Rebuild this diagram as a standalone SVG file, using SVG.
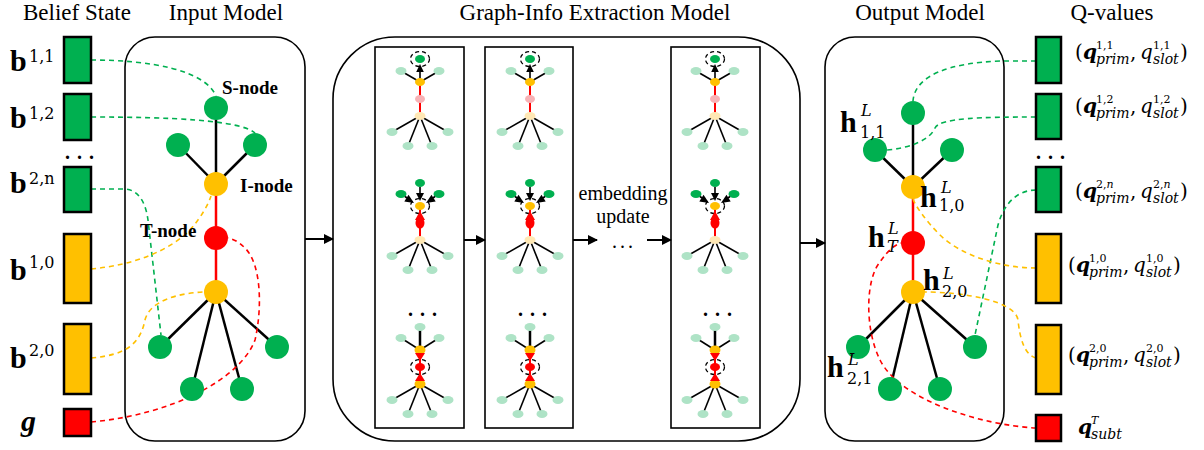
<svg xmlns="http://www.w3.org/2000/svg" xmlns:xlink="http://www.w3.org/1999/xlink" width="1204" height="450" viewBox="0 0 1204 450">
<style>
.t{font-family:"Liberation Serif",serif;font-size:23px;fill:#000}
.nl{font-family:"Liberation Serif",serif;font-weight:bold;font-size:19px}
.eu{font-family:"Liberation Serif",serif;font-size:20px}
.bb{font-family:"Liberation Serif",serif;font-weight:bold;font-size:30px}
.bs{font-family:"DejaVu Serif",serif;font-size:16px}
.hl{font-family:"DejaVu Serif",serif;font-style:italic;font-size:16px}
.qf{font-family:"DejaVu Serif",serif;font-size:20px}
.qb{font-weight:bold;font-style:italic}
.qi{font-style:italic}
.sp{font-size:11px}
.sb{font-size:14px;font-style:italic}
.dots{font-family:"Liberation Serif",serif;font-weight:bold;font-size:20px;letter-spacing:7px}
.box{stroke:#000;stroke-width:2.5}
.frame{fill:none;stroke:#000;stroke-width:1.6}
.g{fill:#00B050}.o{fill:#FFC000}.r{fill:#FF0000}
.lg{fill:#AEE3C6}.py{fill:#FFE8B5}.pk{fill:#F7B2B6}
.ek{stroke:#000;stroke-width:2.5}.er{stroke:#FF0000;stroke-width:2.5}
.mk{stroke:#000;stroke-width:1.6}.mr{stroke:#FF0000;stroke-width:2}
.dg{fill:none;stroke:#00B050;stroke-width:1.6;stroke-dasharray:5 4}
.do{fill:none;stroke:#FFC000;stroke-width:1.6;stroke-dasharray:5 4}
.dr{fill:none;stroke:#FF0000;stroke-width:1.6;stroke-dasharray:5 4}
.dc{fill:none;stroke:#000;stroke-width:1.3;stroke-dasharray:4 3}
.ar{stroke:#000;stroke-width:2;fill:none}
</style>
<defs>
<marker id="ah" markerWidth="10" markerHeight="10" refX="9" refY="5" orient="auto" markerUnits="userSpaceOnUse">
<path d="M0,0 L10,5 L0,10 Z" fill="#000"/>
</marker>
<g id="bottomFan">
<line class="mk" x1="0" y1="0" x2="-28" y2="16"/>
<line class="mk" x1="0" y1="0" x2="28" y2="16"/>
<line class="mk" x1="0" y1="0" x2="-12" y2="30"/>
<line class="mk" x1="0" y1="0" x2="12" y2="30"/>
<ellipse class="lg" cx="-28" cy="16" rx="5.5" ry="4"/>
<ellipse class="lg" cx="28" cy="16" rx="5.5" ry="4"/>
<ellipse class="lg" cx="-12" cy="30" rx="5.5" ry="4"/>
<ellipse class="lg" cx="12" cy="30" rx="5.5" ry="4"/>
</g>
<g id="miniA">
<line class="mk" x1="0" y1="82" x2="-19" y2="71"/>
<line class="mk" x1="0" y1="82" x2="19" y2="71"/>
<line class="mr" x1="0" y1="82" x2="0" y2="116"/>
<use xlink:href="#bottomFan" x="0" y="116"/>
<line class="mk" x1="0" y1="79" x2="0" y2="70"/>
<polygon points="0,64 -3.8,72 3.8,72" fill="#000"/>
<ellipse class="lg" cx="-19" cy="71" rx="5.5" ry="4"/>
<ellipse class="lg" cx="19" cy="71" rx="5.5" ry="4"/>
<ellipse class="o" cx="0" cy="82" rx="5" ry="4"/>
<ellipse class="pk" cx="0" cy="99" rx="5" ry="4"/>
<ellipse class="py" cx="0" cy="116" rx="5.5" ry="4"/>
<ellipse class="g" cx="0" cy="59" rx="5" ry="4"/>
<ellipse class="dc" cx="0" cy="59" rx="9.5" ry="7.5"/>
</g>
<g id="miniB">
<line class="mr" x1="0" y1="206" x2="0" y2="240"/>
<use xlink:href="#bottomFan" x="0" y="240"/>
<ellipse class="dc" cx="0" cy="206" rx="9.5" ry="7.5"/>
<ellipse class="o" cx="0" cy="206" rx="5" ry="4"/>
<ellipse class="g" cx="0" cy="183" rx="5" ry="4"/>
<ellipse class="g" cx="-19" cy="194" rx="5.5" ry="4"/>
<ellipse class="g" cx="19" cy="194" rx="5.5" ry="4"/>
<line class="mk" x1="0" y1="187" x2="0" y2="194"/>
<polygon points="0,201 -4,193 4,193" fill="#000"/>
<line class="mk" x1="-15" y1="196.5" x2="-13" y2="198"/>
<polygon points="-6,203 -15.7,201.6 -11.5,194.8" fill="#000"/>
<line class="mk" x1="15" y1="196.5" x2="13" y2="198"/>
<polygon points="6,203 15.7,201.6 11.5,194.8" fill="#000"/>
<ellipse class="r" cx="0" cy="223" rx="4.5" ry="5.5"/>
<polygon points="0,211 -5,220 5,220" class="r"/>
<ellipse class="py" cx="0" cy="240" rx="5.5" ry="4"/>
</g>
<g id="miniC">
<line class="mk" x1="0" y1="350" x2="-19" y2="338"/>
<line class="mk" x1="0" y1="350" x2="19" y2="338"/>
<line class="ek" x1="0" y1="350" x2="0" y2="327"/>
<line class="mr" x1="0" y1="350" x2="0" y2="384"/>
<use xlink:href="#bottomFan" x="0" y="384"/>
<ellipse class="lg" cx="0" cy="327" rx="5.5" ry="4"/>
<ellipse class="lg" cx="-19" cy="338" rx="5.5" ry="4"/>
<ellipse class="lg" cx="19" cy="338" rx="5.5" ry="4"/>
<ellipse class="dc" cx="0" cy="367" rx="9.5" ry="7.5"/>
<ellipse class="r" cx="0" cy="367" rx="5" ry="4"/>
<ellipse class="o" cx="0" cy="350" rx="5.5" ry="4.5"/>
<ellipse class="o" cx="0" cy="384" rx="5.5" ry="4.5"/>
<polygon points="0,361 -5,353 5,353" class="r"/>
<polygon points="0,373 -5,381 5,381" class="r"/>
</g>
</defs>
<rect width="1204" height="450" fill="#fff"/>

<g id="titles">
<text class="t" x="77" y="20" text-anchor="middle">Belief State</text>
<text class="t" x="226" y="20" text-anchor="middle">Input Model</text>
<text class="t" x="595" y="20" text-anchor="middle">Graph-Info Extraction Model</text>
<text class="t" x="920" y="20" text-anchor="middle">Output Model</text>
<text class="t" x="1112" y="20" text-anchor="middle">Q-values</text>
</g>

<g id="containers">
<rect id="input-model" class="frame" x="125" y="37" width="180" height="404" rx="30"/>
<rect id="graph-info-model" class="frame" x="333" y="37" width="467" height="404" rx="62"/>
<rect id="output-model" class="frame" x="825" y="37" width="179" height="404" rx="30"/>
<rect id="panel-1" class="frame" x="375" y="47" width="89" height="381"/>
<rect id="panel-2" class="frame" x="485" y="47" width="88" height="381"/>
<rect id="panel-3" class="frame" x="671" y="47" width="89" height="381"/>
</g>

<g id="connectors">
<line class="ek" x1="216" y1="108" x2="216" y2="184"/>
<line class="ek" x1="178" y1="145" x2="216" y2="184"/>
<line class="ek" x1="255" y1="145" x2="216" y2="184"/>
<line class="er" x1="216" y1="184" x2="216" y2="292"/>
<line class="ek" x1="216" y1="292" x2="160" y2="347"/>
<line class="ek" x1="216" y1="292" x2="277" y2="347"/>
<line class="ek" x1="216" y1="292" x2="192" y2="389"/>
<line class="ek" x1="216" y1="292" x2="242" y2="389"/>
<line class="ek" x1="913" y1="113" x2="913" y2="187"/>
<line class="ek" x1="875" y1="150" x2="913" y2="187"/>
<line class="ek" x1="952" y1="150" x2="913" y2="187"/>
<line class="er" x1="913" y1="187" x2="913" y2="292"/>
<line class="ek" x1="913" y1="292" x2="858" y2="347"/>
<line class="ek" x1="913" y1="292" x2="975" y2="347"/>
<line class="ek" x1="913" y1="292" x2="890" y2="389"/>
<line class="ek" x1="913" y1="292" x2="940" y2="389"/>
<path class="dg" d="M91,60 C150,60 205,70 216,96"/>
<path class="dg" d="M91,117 C170,117 240,120 255,133"/>
<path class="dg" d="M91,189 L125,189 C140,190 146,205 148,220 L161,335"/>
<path class="do" d="M91,269 C135,265 170,250 190,230 C202,216 208,205 211,196"/>
<path class="do" d="M91,358 C125,355 140,345 145,320 C150,300 180,293 204,292"/>
<path class="dr" d="M91,422 C170,415 240,380 255,340 C262,310 262,265 245,248 C238,241 233,239 228,238"/>
<path class="dg" d="M1036,61 L1000,61 C950,63 915,75 913,101"/>
<path class="dg" d="M1036,117 C980,117 940,118 935,128 C930,140 910,148 887,150"/>
<path class="dg" d="M1036,190 C1020,190 1005,200 998,225 L975,335"/>
<path class="do" d="M1036,268 C1000,268 960,255 940,235 C925,220 915,205 913,199"/>
<path class="do" d="M1036,358 C1025,355 1020,340 1018,320 C1015,300 960,292 925,292"/>
<path class="dr" d="M1036,428 C980,425 900,400 880,360 C865,330 865,280 880,262 C888,250 895,245 901,243"/>
<line class="ar" x1="305" y1="239" x2="333" y2="239" marker-end="url(#ah)"/>
<line class="ar" x1="464" y1="240" x2="485" y2="240" marker-end="url(#ah)"/>
<line class="ar" x1="573" y1="240" x2="597" y2="240" marker-end="url(#ah)"/>
<line class="ar" x1="647" y1="240" x2="671" y2="240" marker-end="url(#ah)"/>
<line class="ar" x1="800" y1="243" x2="825" y2="243" marker-end="url(#ah)"/>
</g>

<g id="belief-state">
<g id="b11"><rect class="box g" x="64" y="37" width="27" height="46"/>
<text x="10" y="71"><tspan class="bb">b</tspan><tspan class="bs" x="29" y="62">1,1</tspan></text></g>
<g id="b12"><rect class="box g" x="64" y="94" width="27" height="46"/>
<text x="10" y="128"><tspan class="bb">b</tspan><tspan class="bs" x="29" y="119">1,2</tspan></text></g>
<text class="dots" x="65" y="159">...</text>
<g id="b2n"><rect class="box g" x="64" y="167" width="27" height="45"/>
<text x="10" y="193"><tspan class="bb">b</tspan><tspan class="bs" x="29" y="184">2,n</tspan></text></g>
<g id="b10"><rect class="box o" x="64" y="234" width="27" height="69"/>
<text x="10" y="280"><tspan class="bb">b</tspan><tspan class="bs" x="29" y="268">1,0</tspan></text></g>
<g id="b20"><rect class="box o" x="64" y="324" width="27" height="70"/>
<text x="10" y="368"><tspan class="bb">b</tspan><tspan class="bs" x="29" y="356">2,0</tspan></text></g>
<g id="goal"><rect class="box r" x="64" y="409" width="27" height="27"/>
<text class="bb" x="21" y="431" font-style="italic">g</text></g>
</g>

<g id="input-nodes">
<g id="in-s"><circle class="g" cx="216" cy="108" r="12"/><text class="nl" x="222" y="94">S-node</text></g>
<g id="in-s-left"><circle class="g" cx="178" cy="145" r="12"/></g>
<g id="in-s-right"><circle class="g" cx="255" cy="145" r="12"/></g>
<g id="in-i"><circle class="o" cx="216" cy="184" r="12"/><text class="nl" x="240" y="192">I-node</text></g>
<g id="in-t"><circle class="r" cx="216" cy="238" r="12"/><text class="nl" x="140" y="237">T-node</text></g>
<g id="in-i2"><circle class="o" cx="216" cy="292" r="12"/></g>
<g id="in-s2a"><circle class="g" cx="160" cy="347" r="12"/></g>
<g id="in-s2b"><circle class="g" cx="277" cy="347" r="12"/></g>
<g id="in-s2c"><circle class="g" cx="192" cy="389" r="12"/></g>
<g id="in-s2d"><circle class="g" cx="242" cy="389" r="12"/></g>
</g>

<g id="graph-info-panels">
<g id="p1"><use xlink:href="#miniA" x="420"/><use xlink:href="#miniB" x="420"/><text class="dots" x="408" y="316">...</text><use xlink:href="#miniC" x="420"/></g>
<g id="p2"><use xlink:href="#miniA" x="530"/><use xlink:href="#miniB" x="530"/><text class="dots" x="518" y="316">...</text><use xlink:href="#miniC" x="530"/></g>
<g id="p3"><use xlink:href="#miniA" x="715"/><use xlink:href="#miniB" x="715"/><text class="dots" x="703" y="316">...</text><use xlink:href="#miniC" x="715"/></g>
<g id="embedding-update">
<text class="eu" x="623" y="200" text-anchor="middle">embedding</text>
<text class="eu" x="623" y="223" text-anchor="middle">update</text>
<text class="eu" x="612" y="248" letter-spacing="3">...</text>
</g>
</g>

<g id="output-nodes">
<g id="out-s"><circle class="g" cx="913" cy="113" r="12"/></g>
<g id="out-s-left"><circle class="g" cx="875" cy="150" r="12"/>
<text x="840" y="132"><tspan class="bb">h</tspan><tspan class="hl" x="861" y="116">L</tspan><tspan class="bs" x="860" y="138">1,1</tspan></text></g>
<g id="out-s-right"><circle class="g" cx="952" cy="150" r="12"/></g>
<g id="out-i"><circle class="o" cx="913" cy="187" r="12"/>
<text x="920" y="207"><tspan class="bb">h</tspan><tspan class="hl" x="941" y="193">L</tspan><tspan class="bs" x="939" y="211">1,0</tspan></text></g>
<g id="out-t"><circle class="r" cx="913" cy="243" r="12"/>
<text x="868" y="247"><tspan class="bb">h</tspan><tspan class="hl" x="888" y="234">L</tspan><tspan class="hl" x="887" y="252">T</tspan></text></g>
<g id="out-i2"><circle class="o" cx="913" cy="292" r="12"/>
<text x="923" y="290"><tspan class="bb">h</tspan><tspan class="hl" x="943" y="279">L</tspan><tspan class="bs" x="942" y="297">2,0</tspan></text></g>
<g id="out-s2a"><circle class="g" cx="858" cy="347" r="12"/>
<text x="827" y="377"><tspan class="bb">h</tspan><tspan class="hl" x="848" y="365">L</tspan><tspan class="bs" x="847" y="384">2,1</tspan></text></g>
<g id="out-s2b"><circle class="g" cx="975" cy="347" r="12"/></g>
<g id="out-s2c"><circle class="g" cx="890" cy="389" r="12"/></g>
<g id="out-s2d"><circle class="g" cx="940" cy="389" r="12"/></g>
</g>

<g id="q-values">
<g id="q11"><rect class="box g" x="1036" y="37" width="25" height="46"/>
<text class="qf" y="59"><tspan x="1075">(</tspan><tspan class="qb" x="1083">q</tspan><tspan class="sp" x="1096" y="49">1,1</tspan><tspan class="sb" x="1096" y="64">prim</tspan><tspan x="1130" y="59">,</tspan><tspan class="qi" x="1140">q</tspan><tspan class="sp" x="1153" y="49">1,1</tspan><tspan class="sb" x="1153" y="64">slot</tspan><tspan x="1180" y="59">)</tspan></text></g>
<g id="q12"><rect class="box g" x="1036" y="94" width="25" height="45"/>
<text class="qf" y="113"><tspan x="1075">(</tspan><tspan class="qb" x="1083">q</tspan><tspan class="sp" x="1096" y="103">1,2</tspan><tspan class="sb" x="1096" y="118">prim</tspan><tspan x="1130" y="113">,</tspan><tspan class="qi" x="1140">q</tspan><tspan class="sp" x="1153" y="103">1,2</tspan><tspan class="sb" x="1153" y="118">slot</tspan><tspan x="1180" y="113">)</tspan></text></g>
<text class="dots" x="1036" y="159">...</text>
<g id="q2n"><rect class="box g" x="1036" y="167" width="25" height="45"/>
<text class="qf" y="198"><tspan x="1075">(</tspan><tspan class="qb" x="1083">q</tspan><tspan class="sp" x="1096" y="188">2,<tspan class="qi">n</tspan></tspan><tspan class="sb" x="1096" y="203">prim</tspan><tspan x="1130" y="198">,</tspan><tspan class="qi" x="1140">q</tspan><tspan class="sp" x="1153" y="188">2,<tspan class="qi">n</tspan></tspan><tspan class="sb" x="1153" y="203">slot</tspan><tspan x="1180" y="198">)</tspan></text></g>
<g id="q10"><rect class="box o" x="1036" y="234" width="25" height="69"/>
<text class="qf" y="272"><tspan x="1068">(</tspan><tspan class="qb" x="1076">q</tspan><tspan class="sp" x="1089" y="262">1,0</tspan><tspan class="sb" x="1089" y="277">prim</tspan><tspan x="1123" y="272">,</tspan><tspan class="qi" x="1133">q</tspan><tspan class="sp" x="1146" y="262">1,0</tspan><tspan class="sb" x="1146" y="277">slot</tspan><tspan x="1173" y="272">)</tspan></text></g>
<g id="q20"><rect class="box o" x="1036" y="325" width="25" height="69"/>
<text class="qf" y="362"><tspan x="1068">(</tspan><tspan class="qb" x="1076">q</tspan><tspan class="sp" x="1089" y="352">2,0</tspan><tspan class="sb" x="1089" y="367">prim</tspan><tspan x="1123" y="362">,</tspan><tspan class="qi" x="1133">q</tspan><tspan class="sp" x="1146" y="352">2,0</tspan><tspan class="sb" x="1146" y="367">slot</tspan><tspan x="1173" y="362">)</tspan></text></g>
<g id="qsubt"><rect class="box r" x="1036" y="415" width="25" height="26"/>
<text class="qf" y="434"><tspan class="qb" x="1078">q</tspan><tspan class="sp qi" x="1091" y="424">T</tspan><tspan class="sb" x="1091" y="439">subt</tspan></text></g>
</g>
</svg>
